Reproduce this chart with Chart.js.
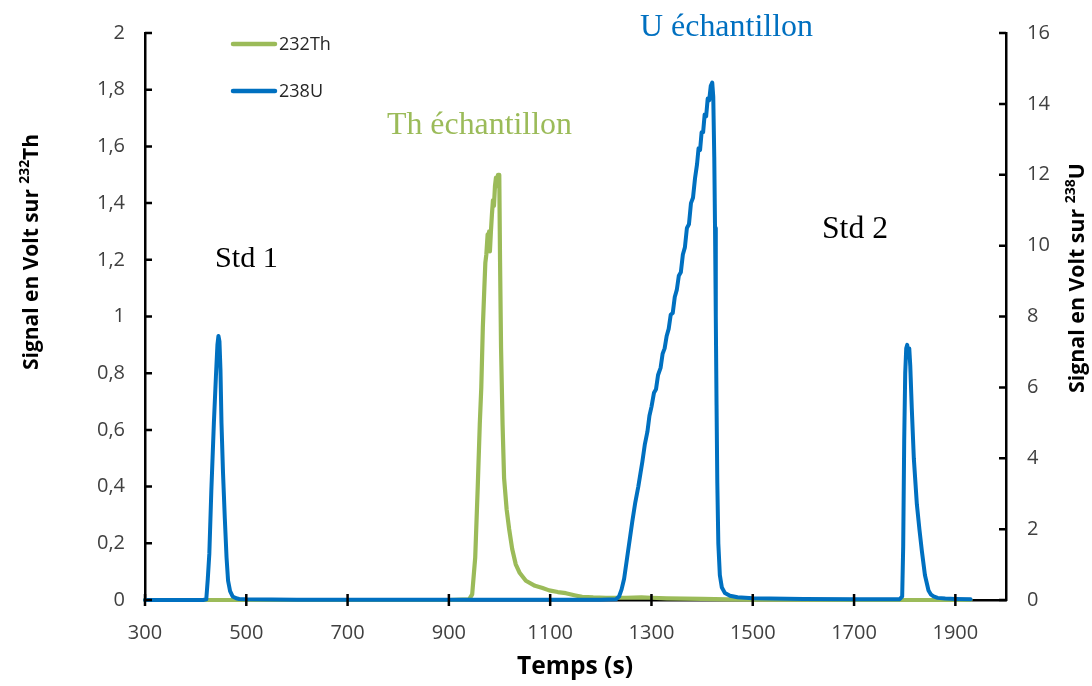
<!DOCTYPE html>
<html>
<head>
<meta charset="utf-8">
<script src="https://cdn.jsdelivr.net/npm/chart.js@4.4.1/dist/chart.umd.min.js"></script>
<style>
html,body{margin:0;padding:0;background:#fff;}
canvas{display:block;}
</style>
</head>
<body>
<canvas id="c" width="1092" height="686"></canvas>
<script>
// ---------- data ----------
const seriesNames = ['232Th', '238U'];

const tTh = [300, 600, 900, 940, 946, 952, 957, 961, 964, 967, 970, 972, 974, 976.5, 978, 979.5, 981, 983, 985, 987, 989, 991, 993, 995, 997, 999.5, 1001, 1003, 1006, 1009, 1014, 1019, 1025, 1032, 1040, 1052, 1070, 1085, 1098, 1115, 1131, 1150, 1163, 1185, 1210, 1250, 1280, 1300, 1330, 1400, 1450, 1500, 1700, 1930];
const vTh = [0, 0, 0, 0.002, 0.02, 0.15, 0.4, 0.62, 0.75, 0.96, 1.1, 1.19, 1.22, 1.29, 1.24, 1.3, 1.23, 1.3, 1.36, 1.41, 1.39, 1.46, 1.49, 1.46, 1.5, 1.5, 1.2, 0.89, 0.62, 0.43, 0.32, 0.25, 0.18, 0.126, 0.095, 0.068, 0.05, 0.042, 0.034, 0.028, 0.024, 0.016, 0.011, 0.009, 0.008, 0.008, 0.009, 0.008, 0.006, 0.004, 0.002, 0.001, 0, 0];

const tU = [300, 415, 421, 424, 427, 431, 436, 440, 443, 445, 447, 449, 451, 454, 457.6, 461, 464, 468, 473, 480, 486, 500, 600, 800, 1000, 1100, 1200, 1230, 1236, 1241, 1246, 1252, 1258, 1262, 1268, 1274, 1278, 1282, 1287, 1292, 1296, 1300, 1305, 1309, 1313, 1318, 1322, 1326, 1330, 1334, 1338, 1342, 1346, 1350, 1354, 1358, 1362, 1366, 1370, 1374, 1378, 1382, 1386, 1390, 1393, 1396, 1399, 1402, 1405, 1408, 1411, 1414, 1417, 1420, 1422, 1424, 1425.5, 1427, 1428.5, 1430, 1432, 1435, 1439, 1445, 1455, 1470, 1500, 1600, 1700, 1790, 1795, 1797, 1799, 1801, 1803, 1805, 1807, 1809, 1811, 1814, 1818, 1824, 1829, 1834, 1840, 1847, 1852, 1857, 1865, 1880, 1900, 1930];
const vU = [0, 0, 0.02, 0.6, 1.3, 3.1, 5.0, 6.3, 7.2, 7.45, 7.3, 6.5, 5.0, 3.6, 2.3, 1.2, 0.55, 0.25, 0.1, 0.05, 0.03, 0.02, 0.01, 0.01, 0.01, 0.01, 0.01, 0.02, 0.1, 0.3, 0.6, 1.2, 1.8, 2.2, 2.75, 3.2, 3.55, 3.9, 4.4, 4.75, 5.2, 5.45, 5.85, 5.95, 6.35, 6.55, 6.95, 7.1, 7.45, 7.65, 8.05, 8.1, 8.55, 8.75, 9.15, 9.25, 9.75, 9.95, 10.5, 10.6, 11.2, 11.35, 11.9, 12.3, 12.75, 12.7, 13.2, 13.2, 13.7, 13.65, 14.15, 14.1, 14.5, 14.6, 14.2, 12.5, 10.5, 8.0, 5.5, 3.3, 1.6, 0.7, 0.35, 0.2, 0.12, 0.08, 0.05, 0.03, 0.02, 0.02, 0.1, 1.5, 4.5, 6.4, 7.1, 7.2, 6.85, 7.1, 6.6, 5.4, 4.0, 2.7, 2.0, 1.37, 0.7, 0.27, 0.15, 0.1, 0.06, 0.04, 0.03, 0.02];

const xTicks = [300, 500, 700, 900, 1100, 1300, 1500, 1700, 1900];
const yLeftTicks = [0, 0.2, 0.4, 0.6, 0.8, 1, 1.2, 1.4, 1.6, 1.8, 2];
const yLeftLabels = ['0', '0,2', '0,4', '0,6', '0,8', '1', '1,2', '1,4', '1,6', '1,8', '2'];
const yRightTicks = [0, 2, 4, 6, 8, 10, 12, 14, 16];
const yRightLabels = ['0', '2', '4', '6', '8', '10', '12', '14', '16'];

const annotations = [
  {text: 'Std 1', color: '#000000'},
  {text: 'Th échantillon', color: '#9BBB59'},
  {text: 'U échantillon', color: '#0070C0'},
  {text: 'Std 2', color: '#000000'}
];

// ---------- styling ----------
const GREEN = '#9BBB59';
const BLUE = '#0070C0';
const TICK_COLOR = '#404040';
const SANS = '"Open Sans", "DejaVu Sans", sans-serif';
const SERIF = '"Liberation Serif", "DejaVu Serif", serif';

const thData = tTh.map((t, i) => ({x: t, y: vTh[i]}));
const uData = tU.map((t, i) => ({x: t, y: vU[i]}));

function fitSize(ctx, text, weight, family, target) {
  ctx.font = weight + ' 20px ' + family;
  return 20 * target / ctx.measureText(text).width;
}

function measureSegments(ctx, segs, size, family) {
  return segs.map(s => {
    const fs = s.sup ? size * 0.66 : size;
    ctx.font = 'bold ' + fs + 'px ' + family;
    return {t: s.t, fs: fs, sup: s.sup, w: ctx.measureText(s.t).width};
  });
}

function drawRotatedTitle(ctx, segs, cx, cy, target) {
  let size = 20;
  let parts = measureSegments(ctx, segs, size, SANS);
  let total = parts.reduce((a, p) => a + p.w, 0);
  size = size * target / total;
  parts = measureSegments(ctx, segs, size, SANS);
  total = parts.reduce((a, p) => a + p.w, 0);
  ctx.save();
  ctx.translate(cx, cy);
  ctx.rotate(-Math.PI / 2);
  ctx.fillStyle = '#000';
  ctx.textBaseline = 'alphabetic';
  ctx.textAlign = 'left';
  let x = -total / 2;
  const base = size * 0.36;
  parts.forEach(p => {
    ctx.font = 'bold ' + p.fs + 'px ' + SANS;
    ctx.fillText(p.t, x, p.sup ? base - size * 0.42 : base);
    x += p.w;
  });
  ctx.restore();
}

const decorPlugin = {
  id: 'decor',
  afterDatasetsDraw(chart) {
    const ctx = chart.ctx;
    const xs = chart.scales.x, yl = chart.scales.y, yr = chart.scales.y1;
    const area = chart.chartArea;
    ctx.save();
    ctx.strokeStyle = '#000';
    ctx.lineWidth = 2.5;
    ctx.lineCap = 'butt';
    ctx.beginPath();
    xTicks.forEach(v => {
      const px = xs.getPixelForValue(v);
      ctx.moveTo(px, area.bottom - 6);
      ctx.lineTo(px, area.bottom + 6);
    });
    yLeftTicks.forEach(v => {
      const py = yl.getPixelForValue(v);
      ctx.moveTo(area.left, py);
      ctx.lineTo(area.left + 7, py);
    });
    yRightTicks.forEach(v => {
      const py = yr.getPixelForValue(v);
      ctx.moveTo(area.right, py);
      ctx.lineTo(area.right - 7, py);
    });
    ctx.stroke();
    ctx.restore();
  },
  afterDraw(chart) {
    const ctx = chart.ctx;
    ctx.save();
    // legend
    const legendItems = [
      {name: seriesNames[0], color: GREEN, y: 44},
      {name: seriesNames[1], color: BLUE, y: 91}
    ];
    legendItems.forEach(it => {
      ctx.strokeStyle = it.color;
      ctx.lineWidth = 4.5;
      ctx.lineCap = 'round';
      ctx.beginPath();
      ctx.moveTo(233, it.y);
      ctx.lineTo(275, it.y);
      ctx.stroke();
      ctx.fillStyle = '#262626';
      ctx.font = '18px ' + SANS;
      ctx.textBaseline = 'middle';
      ctx.textAlign = 'left';
      ctx.fillText(it.name, 279, it.y + 1);
    });

    // annotations
    const annPos = [
      {x0: 215, x1: 278, y: 257},
      {x0: 387, x1: 572, y: 124},
      {x0: 640, x1: 813, y: 26},
      {x0: 822, x1: 888, y: 228}
    ];
    annotations.forEach((a, i) => {
      const p = annPos[i];
      const fs = fitSize(ctx, a.text, 'normal', SERIF, p.x1 - p.x0);
      ctx.font = fs + 'px ' + SERIF;
      ctx.fillStyle = a.color;
      ctx.textBaseline = 'middle';
      ctx.textAlign = 'left';
      ctx.fillText(a.text, p.x0, p.y + 2);
    });

    // x title
    const xt = 'Temps (s)';
    const fsx = fitSize(ctx, xt, 'bold', SANS, 116);
    ctx.font = 'bold ' + fsx + 'px ' + SANS;
    ctx.fillStyle = '#000';
    ctx.textAlign = 'center';
    ctx.textBaseline = 'alphabetic';
    ctx.fillText(xt, 575, 665 + fsx * 0.36);
    ctx.restore();

    // y titles
    drawRotatedTitle(ctx, [{t: 'Signal en Volt sur '}, {t: '232', sup: true}, {t: 'Th'}], 30, 252, 236);
    drawRotatedTitle(ctx, [{t: 'Signal en Volt sur '}, {t: '238', sup: true}, {t: 'U'}], 1076, 278, 230);
  }
};

new Chart(document.getElementById('c'), {
  type: 'line',
  data: {
    datasets: [
      {label: seriesNames[0], data: thData, yAxisID: 'y', borderColor: GREEN, borderWidth: 4.2, order: 2, clip: 8},
      {label: seriesNames[1], data: uData, yAxisID: 'y1', borderColor: BLUE, borderWidth: 4, order: 1, clip: 8}
    ]
  },
  options: {
    responsive: false,
    devicePixelRatio: 1,
    animation: false,
    layout: {padding: {top: 15, left: 0, right: 0, bottom: 0}},
    elements: {
      point: {radius: 0, hoverRadius: 0},
      line: {tension: 0, borderJoinStyle: 'round', borderCapStyle: 'round', fill: false}
    },
    plugins: {
      legend: {display: false},
      tooltip: {enabled: false}
    },
    events: [],
    scales: {
      x: {
        type: 'linear',
        min: 300,
        max: 2000,
        afterBuildTicks: s => { s.ticks = xTicks.map(v => ({value: v})); },
        afterFit: s => { s.height = 86; },
        grid: {display: true, drawOnChartArea: false, drawTicks: false},
        border: {display: true, color: '#000', width: 2.5},
        ticks: {color: TICK_COLOR, font: {family: SANS, size: 20}, padding: 21, maxRotation: 0, autoSkip: false,
          callback: v => String(v)}
      },
      y: {
        type: 'linear',
        position: 'left',
        min: 0,
        max: 2,
        afterBuildTicks: s => { s.ticks = yLeftTicks.map(v => ({value: v})); },
        afterFit: s => { s.width = 145; },
        grid: {display: true, drawOnChartArea: false, drawTicks: false},
        border: {display: true, color: '#000', width: 2.5},
        ticks: {color: TICK_COLOR, font: {family: SANS, size: 20}, padding: 20, autoSkip: false,
          callback: (v, i) => yLeftLabels[i]}
      },
      y1: {
        type: 'linear',
        position: 'right',
        min: 0,
        max: 16,
        afterBuildTicks: s => { s.ticks = yRightTicks.map(v => ({value: v})); },
        afterFit: s => { s.width = 86; },
        grid: {display: true, drawOnChartArea: false, drawTicks: false},
        border: {display: true, color: '#000', width: 2.5},
        ticks: {color: TICK_COLOR, font: {family: SANS, size: 20}, padding: 21, autoSkip: false,
          callback: (v, i) => yRightLabels[i]}
      }
    }
  },
  plugins: [decorPlugin]
});
</script>
</body>
</html>
